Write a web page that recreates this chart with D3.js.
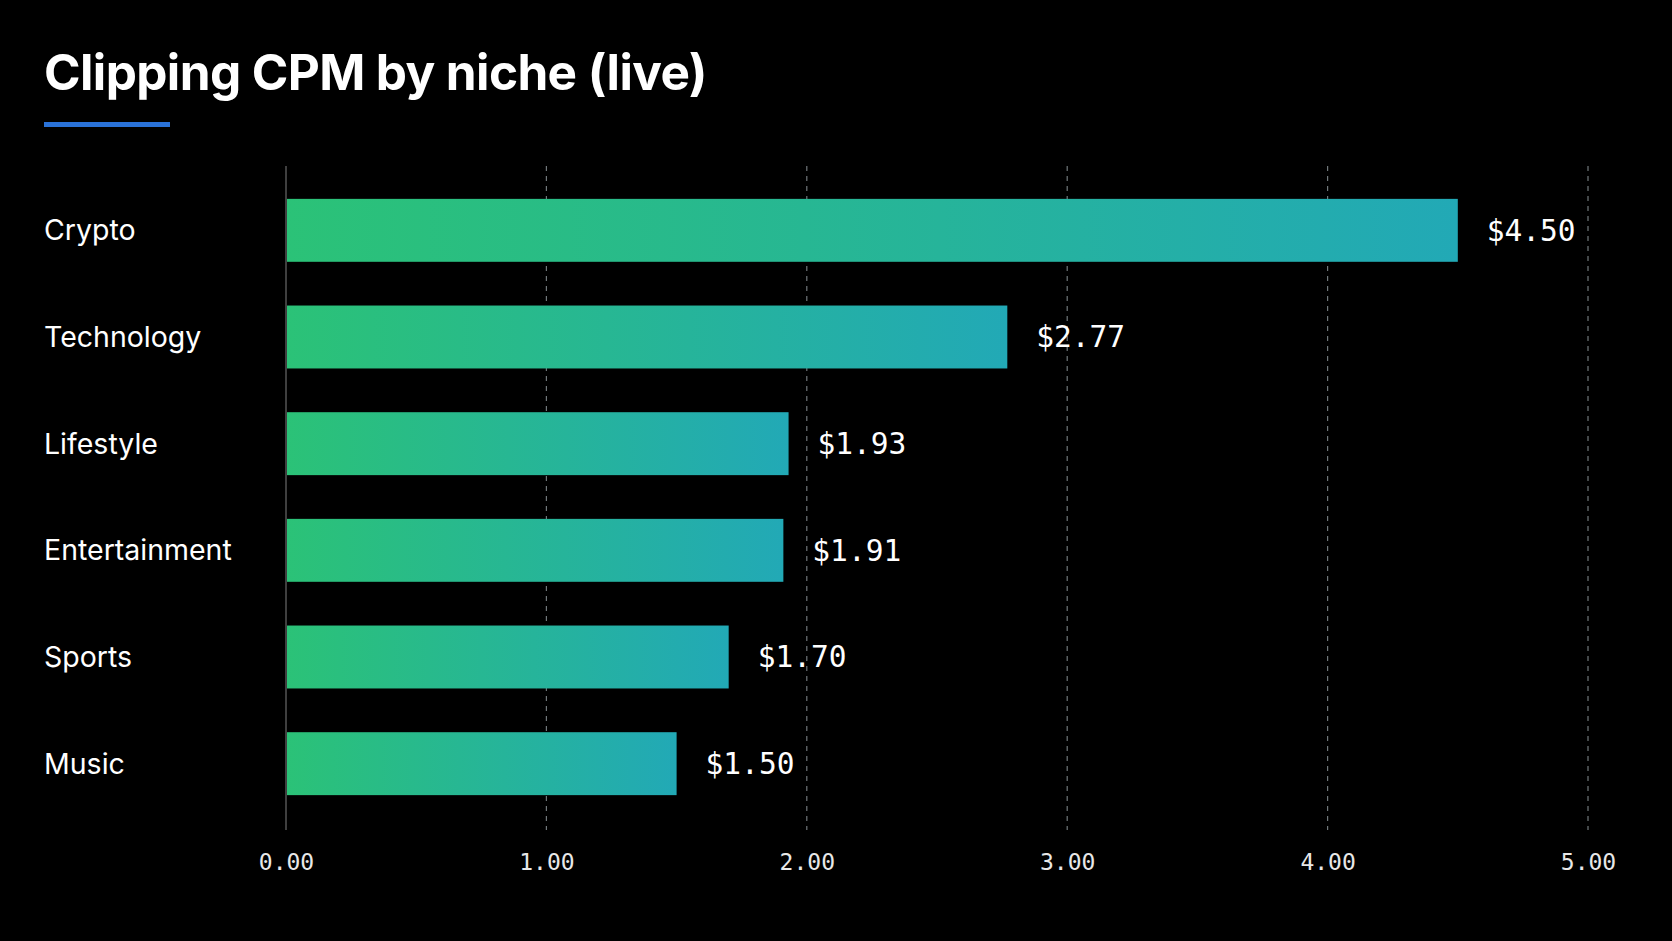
<!DOCTYPE html>
<html>
<head>
<meta charset="utf-8">
<script src="https://cdn.jsdelivr.net/npm/d3@7"></script>
<style>
  html, body { margin: 0; padding: 0; background: #000; }
  svg { display: block; }
</style>
</head>
<body>
<svg id="chart" width="1672" height="941"></svg>
<script>
const title = "Clipping CPM by niche (live)";
const categories = ["Crypto", "Technology", "Lifestyle", "Entertainment", "Sports", "Music"];
const values = [4.50, 2.77, 1.93, 1.91, 1.70, 1.50];
const tickValues = [0, 1, 2, 3, 4, 5];
const tickLabels = ["0.00", "1.00", "2.00", "3.00", "4.00", "5.00"];

const svg = d3.select("#chart");
const W = 1672, H = 941;
const plotLeft = 286, plotRight = 1588, gridTop = 166, gridBottom = 830;
const bandTop = 177, bandBottom = 817;

svg.append("rect").attr("width", W).attr("height", H).attr("fill", "#000");

const defs = svg.append("defs");
const grad = defs.append("linearGradient").attr("id", "barGrad")
  .attr("x1", "0%").attr("x2", "100%").attr("y1", "0%").attr("y2", "0%");
grad.append("stop").attr("offset", "0%").attr("stop-color", "#2bc277");
grad.append("stop").attr("offset", "100%").attr("stop-color", "#22a9b6");

svg.append("text")
  .attr("x", 44).attr("y", 90)
  .attr("fill", "#fff")
  .attr("font-family", "Inter, 'Liberation Sans', sans-serif")
  .attr("font-weight", 700)
  .attr("font-size", 49.5)
  .attr("letter-spacing", -0.6)
  .text(title);
svg.append("rect").attr("x", 44).attr("y", 122).attr("width", 126).attr("height", 5).attr("fill", "#2a72d8");

const x = d3.scaleLinear().domain([0, 5]).range([plotLeft, plotRight]);
const y = d3.scaleBand().domain(categories).range([bandTop, bandBottom]).paddingInner(0.41).paddingOuter(0.205);

svg.append("g").selectAll("line").data(tickValues.filter(d => d > 0)).join("line")
  .attr("x1", d => x(d)).attr("x2", d => x(d))
  .attr("y1", gridTop).attr("y2", gridBottom)
  .attr("stroke", "#70777a").attr("stroke-width", 1.2)
  .attr("stroke-dasharray", "5,5");
svg.append("line")
  .attr("x1", x(0)).attr("x2", x(0)).attr("y1", gridTop).attr("y2", gridBottom)
  .attr("stroke", "#555").attr("stroke-width", 1.5);

svg.append("g").selectAll("rect").data(values).join("rect")
  .attr("x", x(0) + 1)
  .attr("y", (d, i) => y(categories[i]))
  .attr("width", d => x(d) - x(0) - 1)
  .attr("height", y.bandwidth())
  .attr("fill", "url(#barGrad)");

svg.append("g").selectAll("text").data(categories).join("text")
  .attr("x", 44)
  .attr("y", d => y(d) + y.bandwidth() / 2)
  .attr("dy", "0.35em")
  .attr("fill", "#fff")
  .attr("font-family", "Inter, 'Liberation Sans', sans-serif")
  .attr("font-size", 28.5)
  .text(d => d);

svg.append("g").selectAll("text").data(values).join("text")
  .attr("x", d => x(d) + 29)
  .attr("y", (d, i) => y(categories[i]) + y.bandwidth() / 2)
  .attr("dy", "0.35em")
  .attr("fill", "#fff")
  .attr("font-family", "'DejaVu Sans Mono', monospace")
  .attr("font-size", 29.5)
  .text(d => "$" + d.toFixed(2));

const axis = d3.axisBottom(x).tickValues(tickValues).tickFormat((d, i) => tickLabels[i]).tickSize(0).tickPadding(0);
const ag = svg.append("g").attr("transform", `translate(0, ${gridBottom + 32})`).call(axis);
ag.select(".domain").remove();
ag.selectAll("text")
  .attr("fill", "#e8e8e8")
  .attr("font-family", "'DejaVu Sans Mono', monospace")
  .attr("font-size", 23)
  .attr("dy", "0.35em");
</script>
</body>
</html>
